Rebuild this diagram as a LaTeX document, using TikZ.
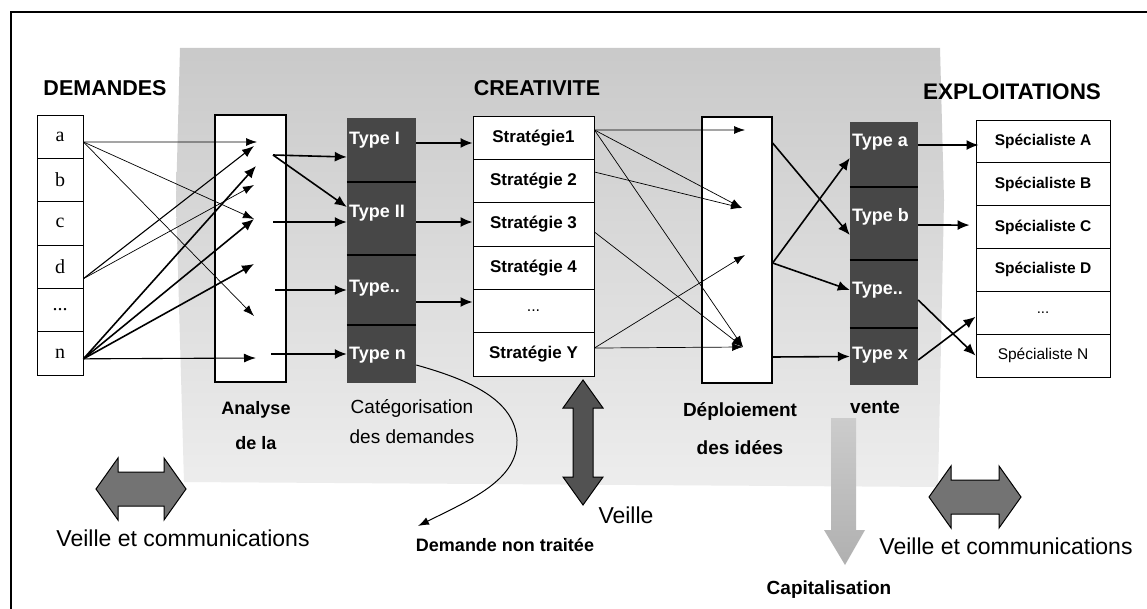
\documentclass[tikz,border=0pt]{standalone}
\usepackage{fontspec}
\setmainfont{Liberation Sans}
\newfontfamily\dserif{Liberation Serif}
\usetikzlibrary{arrows.meta}
\tikzset{
  title/.style={font=\bfseries\fontsize{21.5}{21.5}\selectfont, inner sep=0pt},
  dcell/.style={draw, line width=0.9pt, fill=white, minimum width=46pt, minimum height=43.33pt, inner sep=0pt, font=\dserif\fontsize{20}{20}\selectfont},
  scell/.style={draw, line width=0.9pt, fill=white, minimum width=121pt, minimum height=43.33pt, inner sep=0pt, font=\bfseries\fontsize{17}{17}\selectfont},
  pcell/.style={draw, line width=0.9pt, fill=white, minimum width=134pt, minimum height=42.83pt, inner sep=0pt, font=\bfseries\fontsize{15.5}{15.5}\selectfont},
  bigbox/.style={draw, line width=1.2pt, fill=white, inner sep=0pt},
  tcell/.style={fill=black!72, minimum width=69pt, inner sep=0pt},
  tlabel/.style={anchor=west, text=white, font=\bfseries\fontsize{18}{18}\selectfont, inner sep=0pt},
  sepline/.style={line width=1.5pt, black},
  thinarr/.style={line width=0.7pt, -{Latex[length=11pt,width=8pt]}},
  medarr/.style={line width=1.1pt, -{Latex[length=12pt,width=9pt]}},
  thickarr/.style={line width=1.6pt, -{Latex[length=12pt,width=10pt]}},
  blab/.style={font=\bfseries\fontsize{18}{35}\selectfont, align=center, inner sep=0pt},
  rlab/.style={font=\fontsize{19}{30}\selectfont, align=center, inner sep=0pt},
  veil/.style={font=\fontsize{23}{23}\selectfont, inner sep=0pt},
  fatarrow/.style={fill=black!55, draw=black, line width=1pt, line join=miter},
}
\begin{document}
\begin{tikzpicture}[x=1pt,y=-1pt]
\useasboundingbox (0,0) rectangle (1147,609);
\fill[white] (0,0) rectangle (1147,609);

% textured grey area
\shade[top color=gray!42, bottom color=gray!14] (180,48) -- (940,48) -- (944,200) -- (938,487) -- (184,482) -- (176,200) -- cycle;

% frame
\draw[line width=1.8pt] (11,609) -- (11,12) -- (1147,12);

% titles
\node[title] (tdem) at (105,88) {DEMANDES};
\node[title] (tcre) at (537,88) {CREATIVITE};
\node[title, font=\bfseries\fontsize{22.5}{22.5}\selectfont] (texp) at (1012,92) {EXPLOITATIONS};

% demandes
\node[dcell] (da) at (60,136.67) {a};
\node[dcell] (db) at (60,180) {b};
\node[dcell] (dc) at (60,223.33) {c};
\node[dcell] (dd) at (60,266.67) {d};
\node[dcell] (de) at (60,310) {...};
\node[dcell] (dn) at (60,353.33) {n};

% analyse box
\node[bigbox, minimum width=71pt, minimum height=267pt] (ana) at (250.5,248.5) {};

% type column 1
\node[tcell, minimum height=64pt] (t1) at (381.5,150) {};
\node[tcell, minimum height=73pt] (t2) at (381.5,218.5) {};
\node[tcell, minimum height=70pt] (t3) at (381.5,290) {};
\node[tcell, minimum height=58pt] (t4) at (381.5,354) {};
\draw[sepline] (t1.south west) -- (t1.south east);
\draw[sepline] (t2.south west) -- (t2.south east);
\draw[sepline] (t3.south west) -- (t3.south east);
\node[tlabel] (lt1) at (349,140) {Type I};
\node[tlabel] (lt2) at (349,213) {Type II};
\node[tlabel] (lt3) at (349,288) {Type..};
\node[tlabel] (lt4) at (349,355) {Type n};

% strategies
\node[scell] (s1) at (533.5,137.67) {Stratégie1};
\node[scell] (s2) at (533.5,181) {Stratégie 2};
\node[scell] (s3) at (533.5,224.33) {Stratégie 3};
\node[scell] (s4) at (533.5,267.67) {Stratégie 4};
\node[scell, font=\fontsize{16}{16}\selectfont] (s5) at (533.5,311) {...};
\node[scell] (s6) at (533.5,354.33) {Stratégie Y};

% deploiement box
\node[bigbox, minimum width=70pt, minimum height=266pt] (dep) at (737,250) {};

% type column 2
\node[tcell, minimum width=68pt, minimum height=65pt] (u1) at (884,154.5) {};
\node[tcell, minimum width=68pt, minimum height=73pt] (u2) at (884,223.5) {};
\node[tcell, minimum width=68pt, minimum height=68pt] (u3) at (884,294) {};
\node[tcell, minimum width=68pt, minimum height=57pt] (u4) at (884,356.5) {};
\draw[sepline] (u1.south west) -- (u1.south east);
\draw[sepline] (u2.south west) -- (u2.south east);
\draw[sepline] (u3.south west) -- (u3.south east);
\node[tlabel] (lu1) at (852,142) {Type a};
\node[tlabel] (lu2) at (852,217) {Type b};
\node[tlabel] (lu3) at (852,290) {Type..};
\node[tlabel] (lu4) at (852,355) {Type x};

% specialistes
\node[pcell] (p1) at (1043,141.42) {Spécialiste A};
\node[pcell] (p2) at (1043,184.25) {Spécialiste B};
\node[pcell] (p3) at (1043,227.08) {Spécialiste C};
\node[pcell] (p4) at (1043,269.92) {Spécialiste D};
\node[pcell, font=\fontsize{15}{15}\selectfont] (p5) at (1043,312.75) {...};
\node[pcell, font=\fontsize{15.5}{15.5}\selectfont] (p6) at (1043,355.58) {Spécialiste N};

% arrow tips inside analyse box
\coordinate (aT1) at (257,142);
\coordinate (aT2) at (254,146);
\coordinate (aT3) at (256,166);
\coordinate (aT4) at (254,185);
\coordinate (aT5) at (254,219);
\coordinate (aT6) at (254,264);
\coordinate (aT7) at (254,316);
\coordinate (aT8) at (256,358);
% starts inside analyse box
\coordinate (aS1) at (273,155);
\coordinate (aS2) at (273,222);
\coordinate (aS3) at (275,290);
\coordinate (aS4) at (271,354);

% demandes -> analyse
\draw[thinarr] ([yshift=-5.3pt]da.east) -- (aT1);
\draw[thinarr] ([yshift=-5.3pt]da.east) -- (aT5);
\draw[thinarr] ([yshift=-5.3pt]da.east) -- (aT7);
\draw[medarr] ([yshift=-12pt]dd.east) -- (aT2);
\draw[thinarr] ([yshift=-12pt]dd.east) -- (aT4);
\draw[thickarr] ([yshift=-5.5pt]dn.east) -- (aT3);
\draw[thickarr] ([yshift=-5.5pt]dn.east) -- (aT5);
\draw[thickarr] ([yshift=-5.5pt]dn.east) -- (aT6);
\draw[medarr] ([yshift=-5.5pt]dn.east) -- (aT8);

% analyse -> types
\draw[thickarr] (aS1) -- ([yshift=-7pt]t1.west);
\draw[thickarr] (aS1) -- ([yshift=11.5pt]t2.west);
\draw[thickarr] (aS2) -- ([yshift=-3.5pt]t2.west);
\draw[thickarr] (aS3) -- (t3.west);
\draw[thickarr] (aS4) -- (t4.west);

% types -> strategies
\draw[thickarr] ([yshift=7pt]t1.east) -- ([yshift=-5.3pt]s1.west);
\draw[thickarr] ([yshift=-3.5pt]t2.east) -- ([yshift=2.3pt]s3.west);
\draw[thickarr] ([yshift=-12pt]t3.east) -- ([yshift=9pt]s5.west);

% demande non traitee
\node[font=\bfseries\fontsize{18}{18}\selectfont, inner sep=0pt] (dnt) at (505,545) {Demande non traitée};
\coordinate (dntTip) at (418,526);
\draw[line width=1pt, -{Latex[length=11pt,width=8pt]}] ([yshift=-11pt]t4.east) .. controls (470,380) and (515,400) .. (517,440) .. controls (518,480) and (470,500) .. (dntTip);

% strategies -> deploiement
\coordinate (D1) at (745,130);
\coordinate (D2) at (742,208);
\coordinate (D3) at (745,255);
\coordinate (D4) at (743,347);
\draw[thinarr] ([yshift=7.7pt]s1.east) -- (D1);
\draw[thinarr] ([yshift=7.7pt]s1.east) -- (D2);
\draw[thinarr] ([yshift=7.7pt]s1.east) -- (D4);
\draw[thinarr] ([yshift=9pt]s2.east) -- (D2);
\draw[thinarr] ([yshift=-7.7pt]s3.east) -- (D4);
\draw[thinarr] ([yshift=6.3pt]s6.east) -- (D3);
\draw[thinarr] ([yshift=6.3pt]s6.east) -- (D4);

% deploiement -> types 2
\draw[thickarr] ([yshift=107pt]dep.east) -- ([yshift=-11.5pt]u2.west);
\draw[thickarr] ([yshift=-13pt]dep.east) -- ([yshift=-3.5pt]u1.west);
\draw[thickarr] ([yshift=-13pt]dep.east) -- ([yshift=4pt]u3.west);
\draw[thickarr] ([yshift=-107pt]dep.east) -- (u4.west);

% types 2 -> specialistes
\draw[thickarr] ([yshift=9.5pt]u1.east) -- ([yshift=-3.6pt,xshift=3pt]p1.west);
\draw[thickarr] ([yshift=-1.5pt]u2.east) -- ([yshift=2pt,xshift=-6pt]p3.west);
\draw[thickarr] ([yshift=-6pt]u3.east) -- (p6.west);
\draw[thickarr] ([yshift=-3.5pt]u4.east) -- ([yshift=-4pt]p5.west);

% bottom labels
\node[blab] (lana) at (256,426) {Analyse\\de la};
\node[rlab] (lcat) at (412,422) {Catégorisation\\des demandes};
\node[blab, font=\bfseries\fontsize{19}{38}\selectfont] (ldep) at (740,429) {Déploiement\\des idées};
\node[blab, font=\bfseries\fontsize{19}{19}\selectfont] (lven) at (875,407) {vente};

% veille arrows
\draw[fatarrow] (96,489) -- (118,458) -- (118,472) -- (164,472) -- (164,458) -- (186,489) -- (164,520) -- (164,506) -- (118,506) -- (118,520) -- cycle;
\draw[fatarrow] (929,497) -- (951,466) -- (951,480) -- (999,480) -- (999,466) -- (1021,497) -- (999,528) -- (999,514) -- (951,514) -- (951,528) -- cycle;
\draw[fatarrow, fill=black!68] (583,380) -- (603,408) -- (593,408) -- (593,477) -- (603,477) -- (583,505) -- (563,477) -- (573,477) -- (573,408) -- (563,408) -- cycle;
\shade[top color=gray!40, bottom color=gray!62] (831,418) -- (856,418) -- (856,530) -- (865,530) -- (845,565) -- (824,530) -- (831,530) -- cycle;

\node[veil] (lvl) at (183,538) {Veille et communications};
\node[veil] (lvr) at (1006,546) {Veille et communications};
\node[veil] (lvv) at (626,515) {Veille};
\node[font=\bfseries\fontsize{19}{19}\selectfont, inner sep=0pt] (lcap) at (829,590) {Capitalisation};
\end{tikzpicture}
\end{document}
